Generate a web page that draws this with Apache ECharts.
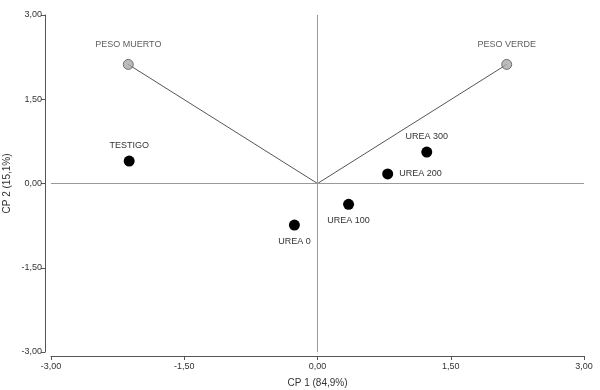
<!DOCTYPE html>
<html><head><meta charset="utf-8">
<script src="https://cdn.jsdelivr.net/npm/echarts@6/dist/echarts.min.js"></script>
<style>html,body{margin:0;padding:0;background:#fff}#c{width:600px;height:390px}</style>
</head><body><div id="c"></div>
<script>
const treatNames = ['TESTIGO','UREA 0','UREA 100','UREA 200','UREA 300'];
const treatX = [-2.12, -0.26, 0.35, 0.79, 1.23];
const treatY = [0.40, -0.74, -0.37, 0.17, 0.56];
const treatLabelPos = ['top','bottom','bottom','right','top'];
const varNames = ['PESO MUERTO','PESO VERDE'];
const varX = [-2.13, 2.13];
const varY = [2.12, 2.12];
const xTicks = [-3, -1.5, 0, 1.5, 3];
const yTicks = [-3, -1.5, 0, 1.5, 3];
const xName = 'CP 1 (84,9%)';
const yName = 'CP 2 (15,1%)';

const fmt = v => v.toFixed(2).replace('.', ',');
const font = 'Liberation Sans, Arial, sans-serif';
const txt = '#333';

const treatData = treatNames.map((n,i)=>({name:n, value:[treatX[i],treatY[i]], label:{position:treatLabelPos[i]}}));
const varData = varNames.map((n,i)=>({name:n, value:[varX[i],varY[i]]}));

const vectorSeries = varNames.map((n,i)=>({
  type:'line', data:[[0,0],[varX[i],varY[i]]], symbol:'none', silent:true,
  lineStyle:{color:'#555', width:1}, z:2
}));

const chart = echarts.init(document.getElementById('c'));
chart.setOption({
  animation:false,
  grid:{left:51, right:16, top:15, bottom:38, containLabel:false, outerBoundsMode:'none'},
  xAxis:{type:'value', min:xTicks[0], max:xTicks[xTicks.length-1], interval:1.5, offset:4,
    name:xName, nameLocation:'middle', nameGap:22, nameMoveOverlap:false,
    nameTextStyle:{color:txt, fontFamily:font, fontSize:10},
    axisLine:{show:true, onZero:false, lineStyle:{color:'#555'}},
    axisTick:{show:true, length:4, lineStyle:{color:'#555'}},
    axisLabel:{color:txt, fontFamily:font, fontSize:9, margin:6, formatter:fmt},
    splitLine:{show:false}},
  yAxis:{type:'value', min:yTicks[0], max:yTicks[yTicks.length-1], interval:1.5, offset:6,
    name:yName, nameLocation:'middle', nameGap:33, nameRotate:90, nameMoveOverlap:false,
    nameTextStyle:{color:txt, fontFamily:font, fontSize:10},
    axisLine:{show:true, onZero:false, lineStyle:{color:'#555'}},
    axisTick:{show:true, length:4, lineStyle:{color:'#555'}},
    axisLabel:{color:txt, fontFamily:font, fontSize:9, margin:3, formatter:fmt},
    splitLine:{show:false}},
  series:[
    {type:'scatter', data:[], silent:true,
      markLine:{silent:true, symbol:'none', label:{show:false},
        lineStyle:{color:'#999', width:1, type:'solid'},
        data:[{xAxis:0},{yAxis:0}]}},
    ...vectorSeries,
    {type:'scatter', data:varData, symbolSize:10, z:4,
      itemStyle:{color:'#aaa', borderColor:'#555', borderWidth:1},
      label:{show:true, position:'top', distance:10, formatter:p=>p.name, color:txt, fontFamily:font, fontSize:9}},
    {type:'scatter', data:treatData, symbolSize:11, z:4,
      itemStyle:{color:'#000', opacity:1},
      label:{show:true, distance:6, formatter:p=>p.name, color:txt, fontFamily:font, fontSize:9}}
  ]
});
</script></body></html>
